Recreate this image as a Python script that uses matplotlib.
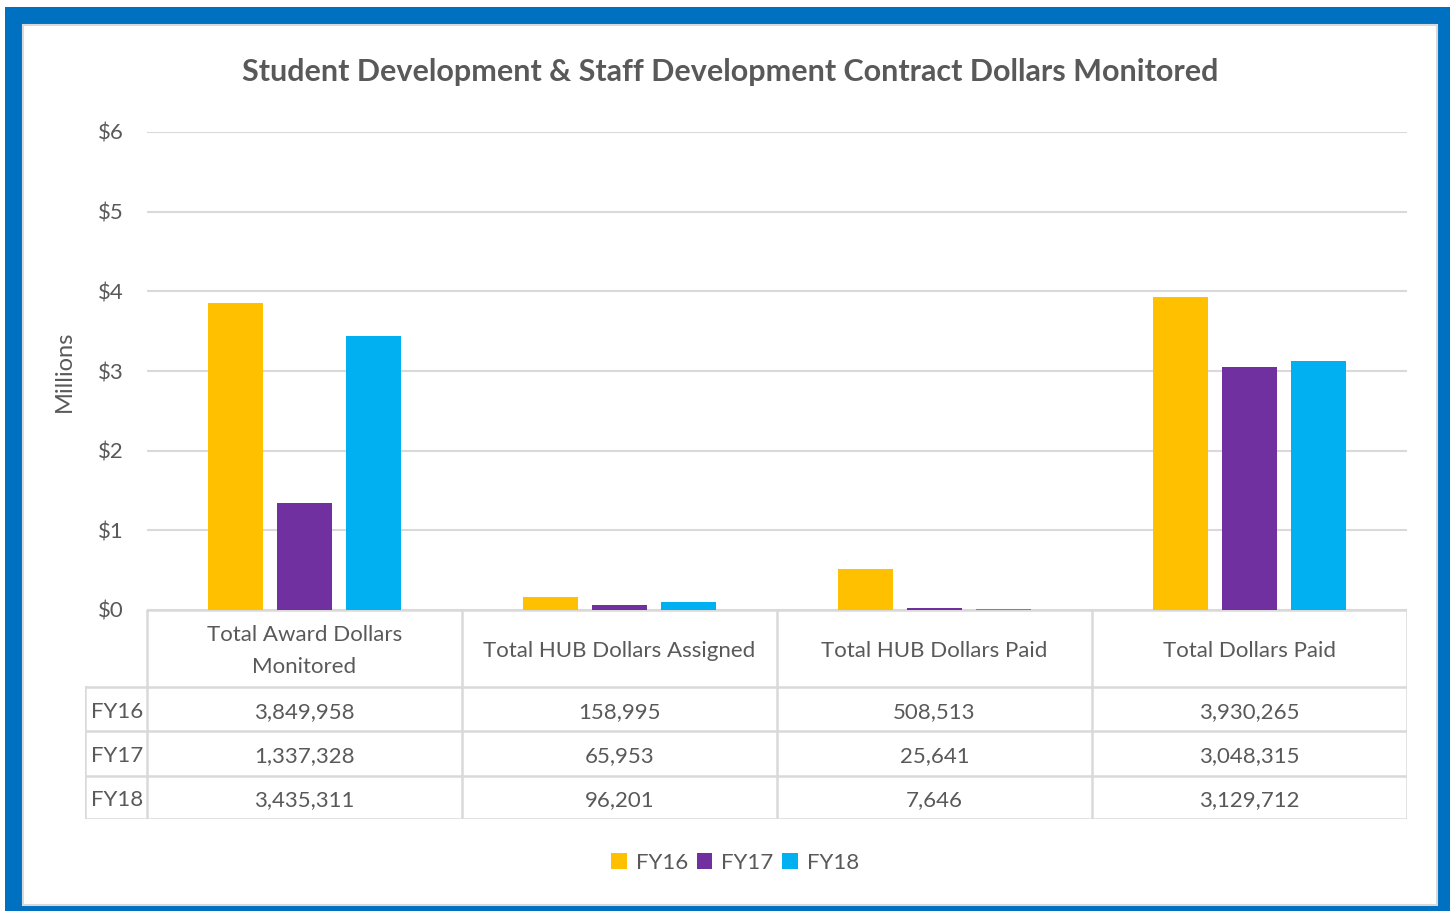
import matplotlib.pyplot as plt
from matplotlib.patches import Rectangle, Patch
from matplotlib.lines import Line2D
import numpy as np

plt.rcParams["font.family"] = ["Lato", "DejaVu Sans"]

kategorije = ["Total Award Dollars\nMonitored", "Total HUB Dollars Assigned",
              "Total HUB Dollars Paid", "Total Dollars Paid"]
leta = ["FY16", "FY17", "FY18"]
fy16 = [3849958, 158995, 508513, 3930265]
fy17 = [1337328, 65953, 25641, 3048315]
fy18 = [3435311, 96201, 7646, 3129712]
yticks = [0, 1, 2, 3, 4, 5, 6]

barve = ["#FFC000", "#7030A0", "#00B0F0"]
siva = "#595959"
crta = "#D9D9D9"

W, H = 1450, 911


def fx(x):
    return x / W


def fy(y):
    return 1 - y / H


fig = plt.figure(figsize=(W / 100, H / 100), dpi=100)
fig.patch.set_facecolor("white")

# modri okvir
fig.add_artist(Rectangle((fx(5), 0), 1 - fx(5), fy(7), transform=fig.transFigure,
                         facecolor="#0070C0", edgecolor="none", zorder=0))
fig.add_artist(Rectangle((fx(23), fy(905)), fx(1437 - 23), (905 - 25) / H,
                         transform=fig.transFigure, facecolor="white",
                         edgecolor=crta, linewidth=1.5, zorder=0))

# graf
x0, x1, ytop, ybot = 147, 1407, 132, 610
ax = fig.add_axes([fx(x0), fy(ybot), fx(x1 - x0), (ybot - ytop) / H])
ax.set_facecolor("none")
x = np.arange(len(kategorije))
sirina = 0.175
zamik = 0.22
for i, (vals, c) in enumerate(zip([fy16, fy17, fy18], barve)):
    ax.bar(x + (i - 1) * zamik, np.array(vals) / 1e6, width=sirina, color=c, zorder=3)
ax.set_xlim(-0.5, len(kategorije) - 0.5)
ax.set_ylim(0, 6)
ax.set_yticks(yticks)
ax.set_yticklabels([f"${v}" for v in yticks], fontsize=16, color=siva)
ax.tick_params(axis="y", length=0, pad=17)
ax.set_xticks([])
ax.grid(axis="y", color=crta, linewidth=1.5, zorder=0)
for s in ax.spines.values():
    s.set_visible(False)
ax.set_ylabel("Millions", fontsize=17, color=siva, labelpad=16)

fig.text(0.5 * (fx(245) + fx(1215)), fy(72),
         "Student Development & Staff Development Contract Dollars Monitored",
         ha="center", va="center", fontsize=22, fontweight="bold", color=siva)

# tabela s podatki
tx0 = 85
tab = fig.add_axes([fx(tx0), fy(819), fx(x1 - tx0), (819 - ybot) / H])
tab.set_xlim(-0.5 - (x0 - tx0) / 315, len(kategorije) - 0.5)
tab.set_ylim(819, ybot)
tab.axis("off")
vrstice = [ybot, 687, 731, 776, 819]
meje = [-0.5 + k for k in range(len(kategorije) + 1)]
lk = dict(color=crta, linewidth=1.8, solid_capstyle="projecting")
for m in meje:
    tab.add_line(Line2D([m, m], [ybot, 819], **lk))
levo = tab.get_xlim()[0]
tab.add_line(Line2D([levo, levo], [687, 819], **lk))
tab.add_line(Line2D([-0.5, meje[-1]], [ybot, ybot], **lk))
for r in vrstice[1:]:
    tab.add_line(Line2D([levo, meje[-1]], [r, r], **lk))

for k, ime in enumerate(kategorije):
    tab.text(k, (ybot + 687) / 2 + 3, ime, ha="center", va="center", fontsize=16,
             color=siva, linespacing=1.75)
for j, (leto, vals) in enumerate(zip(leta, [fy16, fy17, fy18])):
    yc = (vrstice[j + 1] + vrstice[j + 2]) / 2 + 3
    tab.text(levo + 0.02, yc, leto, ha="left", va="center", fontsize=16, color=siva)
    for k, v in enumerate(vals):
        tab.text(k, yc, f"{v:,}", ha="center", va="center", fontsize=16, color=siva)

# legenda
rocke = [Patch(facecolor=c, edgecolor="none", label=l) for c, l in zip(barve, leta)]
leg = fig.legend(handles=rocke, loc="center", bbox_to_anchor=(fx(735), fy(863)),
                 ncol=3, frameon=False, fontsize=16, handlelength=0.7,
                 handleheight=0.7, handletextpad=0.4, columnspacing=0.4)
for t in leg.get_texts():
    t.set_color(siva)

fig.savefig("out.png", dpi=100)
